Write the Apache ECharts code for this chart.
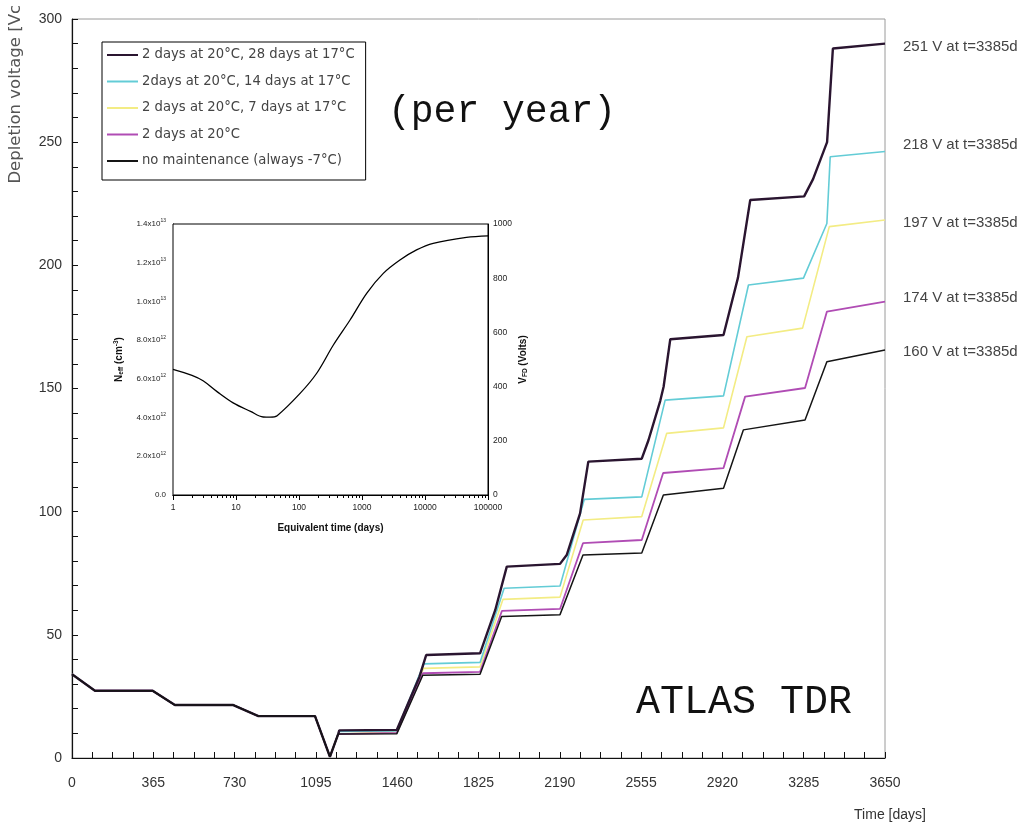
<!DOCTYPE html>
<html>
<head>
<meta charset="utf-8">
<script src="https://cdn.jsdelivr.net/npm/echarts@6/dist/echarts.min.js"></script>
<style>
html,body{margin:0;padding:0;background:#fff;}
#chart{width:1023px;height:822px;}
</style>
</head>
<body>
<div id="chart"></div>
<script>
// ---------- DATA ----------
const seriesNames = [
  '2 days at 20°C, 28 days at 17°C',
  '2days at 20°C, 14 days at 17°C',
  '2 days at 20°C, 7 days at 17°C',
  '2 days at 20°C',
  'no maintenance (always -7°C)'
];
// shared first three years [day, volts]
const commonPart = [[0,34],[103,27.3],[362,27.3],[462,21.5],[724,21.5],[837,17],[1091,17],[1158,0.5],[1195,9.7]];
const tail28 = [[1200,11.2],[1458,11.4],[1560,33],[1590,41.8],[1832,42.5],[1900,60],[1952,77.7],[2191,78.8],[2221,82.4],[2281,99.3],[2318,120.3],[2558,121.5],[2588,129],[2641,145],[2656,150.7],[2686,170],[2925,171.7],[2990,195],[3045,226.5],[3287,228],[3327,235],[3390,250],[3416,288],[3650,290]];
const tail14 = [[1200,10.8],[1458,11],[1580,38.2],[1832,38.8],[1940,68.9],[2191,69.8],[2300,105],[2558,106],[2663,145.3],[2925,147],[3037,192],[3284,194.8],[3389,217],[3404,244.1],[3650,246.2]];
const tail7 = [[1200,10.4],[1458,10.6],[1578,36.4],[1832,37],[1935,64.4],[2191,65.3],[2295,96.6],[2558,98],[2670,131.8],[2925,134],[3030,171],[3280,174.5],[3400,215.7],[3650,218.4]];
const tail2 = [[1200,10],[1458,10.2],[1575,34.4],[1832,35],[1930,59.7],[2191,60.5],[2294,87.2],[2558,88.5],[2654,115.7],[2925,117.7],[3022,146.7],[3291,150.2],[3389,181.2],[3650,185.3]];
const tailNone = [[1200,9.6],[1458,9.8],[1575,33.6],[1832,34],[1929,57.4],[2191,58.2],[2294,82.4],[2558,83.2],[2655,106.8],[2925,109.5],[3014,133.2],[3291,137.2],[3389,160.9],[3650,165.6]];
const endLabels = ['251 V at t=3385d','218 V at t=3385d','197 V at t=3385d','174 V at t=3385d','160 V at t=3385d'];

// inset: N_eff (x1e12 cm^-3) vs equivalent time (days)
const insetTime = [1,2,3,5,9,17,27,35,45,104,191,351,646,1186,2178,4000,7345,13490,45500,100000];
const insetNeff = [6.49,6.18,5.90,5.34,4.76,4.32,4.03,4.02,4.10,5.25,6.29,7.75,9.04,10.42,11.45,12.14,12.66,13.0,13.31,13.39];
const insetYLabels = [['0.0',''],['2.0','12'],['4.0','12'],['6.0','12'],['8.0','12'],['1.0','13'],['1.2','13'],['1.4','13']];

// ---------- CHART ----------
const colors = ['#2a1530','#63ccd6','#f3ec84','#b04cb4','#151515'];
const widths = [2.4,1.6,1.6,1.8,1.5];
const tails = [tail28, tail14, tail7, tail2, tailNone];
const FONT = 'Liberation Sans, Arial, sans-serif';
const WIDE = 'DejaVu Sans, Verdana, sans-serif';
const plain = (v)=>String(v);

const mainSeries = seriesNames.map((n,i)=>({
  name:n, type:'line', xAxisIndex:0, yAxisIndex:0,
  data: commonPart.concat(tails[i]),
  showSymbol:false, symbol:'none',
  lineStyle:{color:colors[i], width:widths[i]},
  itemStyle:{color:colors[i]},
  z: [6,4,3,5,7][i]
}));

const chart = echarts.init(document.getElementById('chart'), null, {renderer:'canvas'});
const option = {
  animation:false,
  backgroundColor:'#fff',
  textStyle:{fontFamily:FONT},
  grid:[
    {left:72, right:138, top:19, bottom:64, show:true, borderColor:'#9a9a9a', borderWidth:1},
    {left:173, top:224, width:315, height:271, show:true, borderColor:'#000', borderWidth:1, backgroundColor:'#fff', z:10}
  ],
  legend:{
    data:seriesNames, orient:'vertical', left:102, top:42,
    itemWidth:31, itemHeight:14, itemGap:12.5, itemStyle:{opacity:0},
    padding:[6,11,12,4], borderColor:'#000', borderWidth:1, backgroundColor:'#fff',
    textStyle:{fontSize:13.2, color:'#444', fontFamily:WIDE, lineHeight:14, padding:[0,0,0,-1]}
  },
  xAxis:[
    {type:'value', gridIndex:0, min:0, max:3650, interval:365,
     axisLine:{lineStyle:{color:'#111', width:1.2}},
     axisTick:{inside:true, length:6, lineStyle:{color:'#111'}},
     minorTick:{show:true, splitNumber:4, length:6, lineStyle:{color:'#111'}},
     splitLine:{show:false},
     axisLabel:{fontSize:14, color:'#333', margin:18, fontFamily:FONT, formatter:plain}},
    {type:'log', gridIndex:1, min:1, max:100000, logBase:10,
     axisLine:{lineStyle:{color:'#000'}},
     axisTick:{inside:true, length:5, lineStyle:{color:'#000'}},
     minorTick:{show:true, splitNumber:9, length:3, lineStyle:{color:'#000'}},
     splitLine:{show:false},
     axisLabel:{fontSize:8.5, color:'#222', margin:8, fontFamily:FONT, formatter:plain},
     name:'Equivalent time (days)', nameLocation:'middle', nameGap:28,
     nameTextStyle:{fontSize:10, fontWeight:'bold', color:'#111', fontFamily:FONT}},
    {type:'log', gridIndex:1, position:'top', min:1, max:100000, logBase:10,
     axisLine:{lineStyle:{color:'#000'}},
     axisTick:{inside:true, length:5, lineStyle:{color:'#000'}},
     minorTick:{show:true, splitNumber:9, length:3, lineStyle:{color:'#000'}},
     splitLine:{show:false}, axisLabel:{show:false}}
  ],
  yAxis:[
    {type:'value', gridIndex:0, min:0, max:300, interval:50,
     axisLine:{show:true, lineStyle:{color:'#111', width:1.2}},
     axisTick:{show:true, inside:true, length:6, lineStyle:{color:'#111'}},
     minorTick:{show:true, splitNumber:5, length:6, lineStyle:{color:'#111'}},
     splitLine:{show:false},
     axisLabel:{fontSize:14, color:'#333', margin:10, fontFamily:FONT, formatter:plain}},
    {type:'value', gridIndex:1, min:0, max:14, interval:2,
     axisLine:{show:true, lineStyle:{color:'#000'}},
     axisTick:{show:true, inside:true, length:5, lineStyle:{color:'#000'}},
     minorTick:{show:true, splitNumber:2, length:3, lineStyle:{color:'#000'}},
     splitLine:{show:false},
     axisLabel:{fontSize:8, color:'#222', margin:7, fontFamily:FONT,
       formatter:(v)=>{const l=insetYLabels[Math.round(v/2)]; return l[1]?l[0]+'x10{s|'+l[1]+'}':l[0];},
       rich:{s:{fontSize:5, verticalAlign:'top', padding:[0,0,6,0], color:'#222'}}},
     name:'{b|N}{sub|eff}{b| (cm}{sup|-3}{b|)}', nameLocation:'middle', nameGap:48, nameRotate:90,
     nameTextStyle:{fontSize:10, fontWeight:'bold', color:'#111', fontFamily:FONT,
       rich:{b:{fontSize:10,fontWeight:'bold',color:'#111'}, sub:{fontSize:6.5,fontWeight:'bold',verticalAlign:'bottom',padding:[4,0,0,0],color:'#111'}, sup:{fontSize:6.5,fontWeight:'bold',verticalAlign:'top',padding:[0,0,5,0],color:'#111'}}}},
    {type:'value', gridIndex:1, position:'right', min:0, max:1000, interval:200,
     axisLine:{show:true, lineStyle:{color:'#000'}},
     axisTick:{show:true, inside:true, length:5, lineStyle:{color:'#000'}},
     minorTick:{show:true, splitNumber:2, length:3, lineStyle:{color:'#000'}},
     splitLine:{show:false},
     axisLabel:{fontSize:8.5, color:'#222', margin:5, fontFamily:FONT, formatter:plain},
     name:'{b|V}{sub|FD}{b| (Volts)}', nameLocation:'middle', nameGap:30, nameRotate:90,
     nameTextStyle:{fontSize:10, fontWeight:'bold', color:'#111', fontFamily:FONT,
       rich:{b:{fontSize:10,fontWeight:'bold',color:'#111'}, sub:{fontSize:6.5,fontWeight:'bold',verticalAlign:'bottom',padding:[4,0,0,0],color:'#111'}}}}
  ],
  series: mainSeries.concat([{
    name:'inset', type:'line', xAxisIndex:1, yAxisIndex:1,
    data: insetTime.map((t,i)=>[t, insetNeff[i]]),
    smooth:0.35, showSymbol:false, symbol:'none',
    lineStyle:{color:'#000', width:1.3}, z:12
  }]),
  graphic:[
    {type:'text', x:16, y:5, rotation:Math.PI/2,
     style:{text:'Depletion voltage [Vc', font:'16.5px '+WIDE, fill:'#555', textAlign:'right', textVerticalAlign:'middle'}},
    {type:'text', x:890, y:815,
     style:{text:'Time [days]', font:'14px '+FONT, fill:'#333', textAlign:'center', textVerticalAlign:'middle'}},
    {type:'text', x:388, y:112,
     style:{text:'(per year)', font:'38px Liberation Mono, Courier New, monospace', fill:'#111', textVerticalAlign:'middle'}},
    {type:'text', x:636, y:702,
     style:{text:'ATLAS TDR', font:'40px Liberation Mono, Courier New, monospace', fill:'#111', textVerticalAlign:'middle'}}
  ].concat(endLabels.map((t,i)=>({type:'text', x:903, y:[47,145,223,298,352][i],
     style:{text:t, font:'15px '+FONT, fill:'#444', textVerticalAlign:'middle'}})))
};
chart.setOption(option);
</script>
</body>
</html>
